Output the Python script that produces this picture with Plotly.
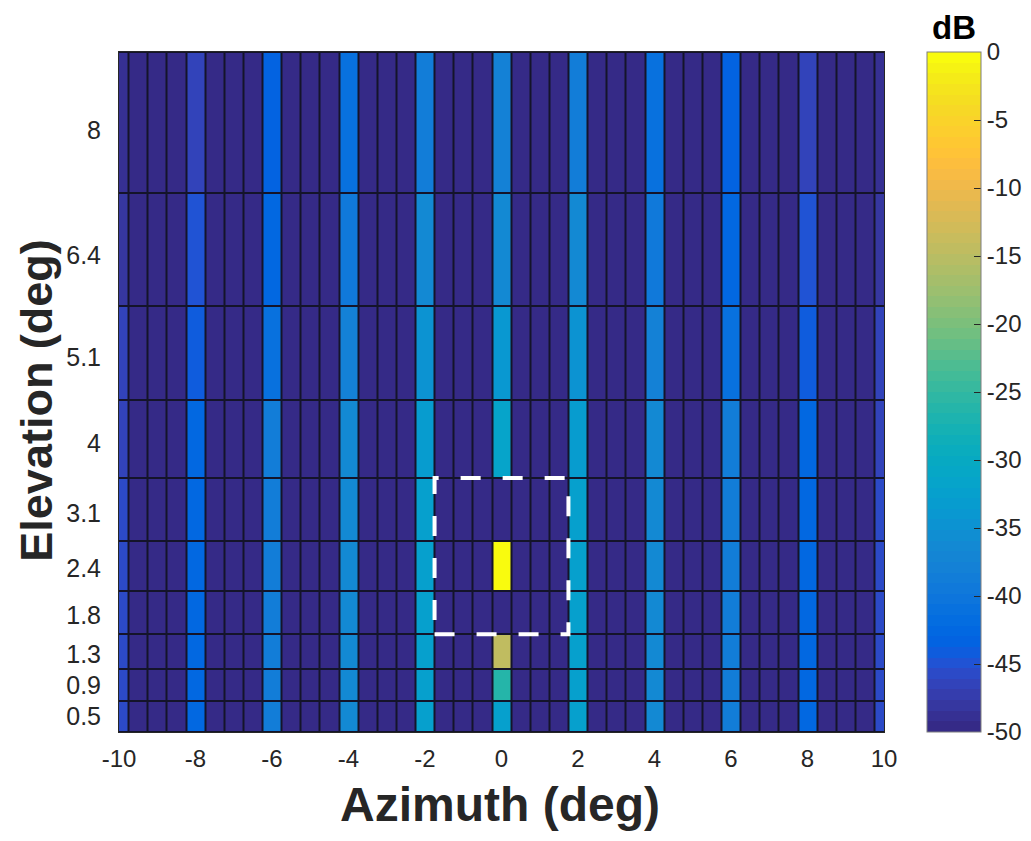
import plotly.graph_objects as go

# ---------------- data ----------------
azimuth_deg = [round(-10 + 0.5 * i, 1) for i in range(41)]             # column centres (deg)
elevation_deg = [0.5, 0.9, 1.3, 1.8, 2.4, 3.1, 4.0, 5.1, 6.4, 8.0]        # row centres (deg), bottom -> top
elev_labels = ["0.5", "0.9", "1.3", "1.8", "2.4", "3.1", "4", "5.1", "6.4", "8"]
elev_limits = [0.3, 9.0]                                                  # elevation coverage (deg)

floor_db = -50
lobe_az = [-10, -8, -6, -4, -2, 0, 2, 4, 6, 8, 10]
# level (dB) of the grating-lobe columns for each elevation row (bottom -> top)
lobe_db = [
    [-46.0, -42.2, -39.0, -36.3, -32.6, -32.8, -32.6, -36.3, -39.0, -42.2, -46.0],  # 0.5
    [-46.0, -42.2, -39.0, -36.3, -32.6, -26.0, -32.6, -36.3, -39.0, -42.2, -46.0],  # 0.9
    [-46.0, -42.2, -39.0, -36.3, -32.6, -14.5, -32.6, -36.3, -39.0, -42.2, -46.0],  # 1.3
    [-46.0, -42.2, -39.0, -36.3, -32.6, -50.0, -32.6, -36.3, -39.0, -42.2, -46.0],  # 1.8
    [-46.0, -42.2, -39.0, -36.3, -32.6,   0.0, -32.6, -36.3, -39.0, -42.2, -46.0],  # 2.4
    [-46.0, -42.2, -39.0, -36.3, -32.6, -50.0, -32.6, -36.3, -39.0, -42.2, -46.0],  # 3.1
    [-46.5, -42.6, -39.0, -36.3, -33.2, -31.6, -33.2, -36.3, -39.0, -42.6, -46.5],  # 4
    [-46.5, -44.0, -41.0, -37.7, -34.5, -34.0, -34.5, -37.7, -41.0, -44.0, -46.5],  # 5.1
    [-47.8, -45.0, -42.3, -39.5, -36.3, -36.0, -36.3, -39.5, -42.3, -45.0, -47.8],  # 6.4
    [-48.5, -46.5, -43.0, -41.0, -38.5, -38.0, -38.5, -41.0, -43.0, -46.5, -48.5],  # 8
]
x_ticks = [-10, -8, -6, -4, -2, 0, 2, 4, 6, 8, 10]
cbar_ticks = [0, -5, -10, -15, -20, -25, -30, -35, -40, -45, -50]

# highlighted region (target cell neighbourhood)
highlight_az = [-1.5, 1.5]
highlight_rows = ["1.8", "3.1"]

# ---------------- build grid ----------------
z = []
for row in lobe_db:
    lookup = dict(zip(lobe_az, row))
    z.append([lookup.get(a, floor_db) for a in azimuth_deg])

# row boundaries: midpoints between elevation centres, closed by the coverage limits
elev_edges = [elev_limits[0]] + [
    (elevation_deg[i] + elevation_deg[i + 1]) / 2 for i in range(len(elevation_deg) - 1)
] + [elev_limits[1]]

# parula(64)
parula = [
    [0.2081, 0.1663, 0.5292], [0.2116, 0.1898, 0.5777], [0.2123, 0.2138, 0.6270], [0.2081, 0.2386, 0.6771],
    [0.1959, 0.2645, 0.7279], [0.1707, 0.2919, 0.7792], [0.1253, 0.3242, 0.8303], [0.0591, 0.3598, 0.8683],
    [0.0117, 0.3875, 0.8820], [0.0060, 0.4086, 0.8828], [0.0165, 0.4266, 0.8786], [0.0329, 0.4430, 0.8720],
    [0.0498, 0.4586, 0.8641], [0.0629, 0.4737, 0.8554], [0.0723, 0.4887, 0.8467], [0.0779, 0.5040, 0.8384],
    [0.0793, 0.5200, 0.8312], [0.0749, 0.5375, 0.8263], [0.0641, 0.5570, 0.8240], [0.0488, 0.5772, 0.8228],
    [0.0343, 0.5966, 0.8199], [0.0265, 0.6137, 0.8135], [0.0239, 0.6287, 0.8038], [0.0231, 0.6418, 0.7913],
    [0.0228, 0.6535, 0.7768], [0.0267, 0.6642, 0.7607], [0.0384, 0.6743, 0.7436], [0.0590, 0.6838, 0.7254],
    [0.0843, 0.6928, 0.7062], [0.1133, 0.7015, 0.6859], [0.1453, 0.7098, 0.6646], [0.1801, 0.7177, 0.6424],
    [0.2178, 0.7250, 0.6193], [0.2586, 0.7317, 0.5954], [0.3022, 0.7376, 0.5712], [0.3482, 0.7424, 0.5473],
    [0.3953, 0.7459, 0.5244], [0.4420, 0.7481, 0.5033], [0.4871, 0.7491, 0.4840], [0.5300, 0.7491, 0.4661],
    [0.5709, 0.7485, 0.4494], [0.6099, 0.7473, 0.4337], [0.6473, 0.7456, 0.4188], [0.6834, 0.7435, 0.4044],
    [0.7184, 0.7411, 0.3905], [0.7525, 0.7384, 0.3768], [0.7858, 0.7356, 0.3633], [0.8185, 0.7327, 0.3498],
    [0.8507, 0.7299, 0.3360], [0.8824, 0.7274, 0.3217], [0.9139, 0.7258, 0.3063], [0.9450, 0.7261, 0.2886],
    [0.9739, 0.7314, 0.2666], [0.9938, 0.7455, 0.2403], [0.9990, 0.7653, 0.2164], [0.9955, 0.7861, 0.1967],
    [0.9880, 0.8066, 0.1794], [0.9789, 0.8271, 0.1633], [0.9697, 0.8481, 0.1475], [0.9626, 0.8705, 0.1309],
    [0.9589, 0.8949, 0.1132], [0.9598, 0.9218, 0.0948], [0.9661, 0.9514, 0.0755], [0.9763, 0.9831, 0.0538],
]
n = len(parula)
colorscale = []
for i, (r, g, b) in enumerate(parula):
    c = f"rgb({round(r*255)},{round(g*255)},{round(b*255)})"
    colorscale.append([i / n, c])
    colorscale.append([(i + 1) / n, c])

FONT = "Liberation Sans, Arial, Helvetica, sans-serif"
TXT = "#262626"

fig = go.Figure()
fig.add_trace(go.Heatmap(
    x=azimuth_deg, y=elev_edges, z=z,
    zmin=-50, zmax=0, colorscale=colorscale,
    xgap=2, ygap=2, hoverongaps=False,
    colorbar=dict(
        x=1.0558, xanchor="left", y=0.5, yanchor="middle", len=1, lenmode="fraction",
        ypad=0, xpad=0,
        thickness=54, outlinecolor="#7f7f7f", outlinewidth=1,
        tickvals=cbar_ticks, ticktext=[str(v) for v in cbar_ticks],
        ticks="inside", ticklen=7, tickcolor=TXT,
        tickfont=dict(family=FONT, size=24, color=TXT),
    ),
))

# dashed highlight box, derived from the data bins
half = (azimuth_deg[1] - azimuth_deg[0]) / 2
i_lo = elev_labels.index(highlight_rows[0])
i_hi = elev_labels.index(highlight_rows[1])
fig.add_shape(type="rect", xref="x", yref="y",
              x0=highlight_az[0] - half, x1=highlight_az[1] + half,
              y0=elev_edges[i_lo], y1=elev_edges[i_hi + 1],
              line=dict(color="white", width=4, dash="20px,22px"), fillcolor="rgba(0,0,0,0)")

# colour-bar unit label and axis titles
fig.add_annotation(text="<b>dB</b>", xref="paper", yref="paper", x=1.0915, y=1.0,
                   xanchor="center", yanchor="bottom", yshift=4, showarrow=False,
                   font=dict(family=FONT, size=33, color="#000000"))
fig.add_annotation(text="<b>Azimuth (deg)</b>", xref="paper", yref="paper", x=0.498, y=-0.1485,
                   xanchor="center", yanchor="bottom", showarrow=False,
                   font=dict(family=FONT, size=48, color=TXT))
fig.add_annotation(text="<b>Elevation (deg)</b>", xref="paper", yref="paper", x=-0.1078, y=0.488,
                   xanchor="center", yanchor="middle", textangle=-90, showarrow=False,
                   font=dict(family=FONT, size=45, color=TXT))

fig.update_layout(
    width=1015, height=825,
    margin=dict(l=111, r=139, t=44, b=101, autoexpand=False),
    paper_bgcolor="white", plot_bgcolor="#14142a",
    font=dict(family=FONT, color=TXT),
    showlegend=False,
)
fig.update_xaxes(
    range=[-10, 10], tickvals=x_ticks, ticktext=[str(v) for v in x_ticks],
    showgrid=False, zeroline=False,
    showline=True, linecolor=TXT, linewidth=1, mirror=True, ticks="",
    ticklabelstandoff=5, tickfont=dict(family=FONT, size=24, color=TXT),
    automargin=False,
)
fig.update_yaxes(
    range=elev_limits, tickvals=elevation_deg, ticktext=elev_labels,
    showgrid=False, zeroline=False,
    showline=True, linecolor=TXT, linewidth=1, mirror=True, ticks="",
    ticklabelstandoff=12, tickfont=dict(family=FONT, size=25, color=TXT),
    automargin=False,
)

fig.write_html("out.html")
